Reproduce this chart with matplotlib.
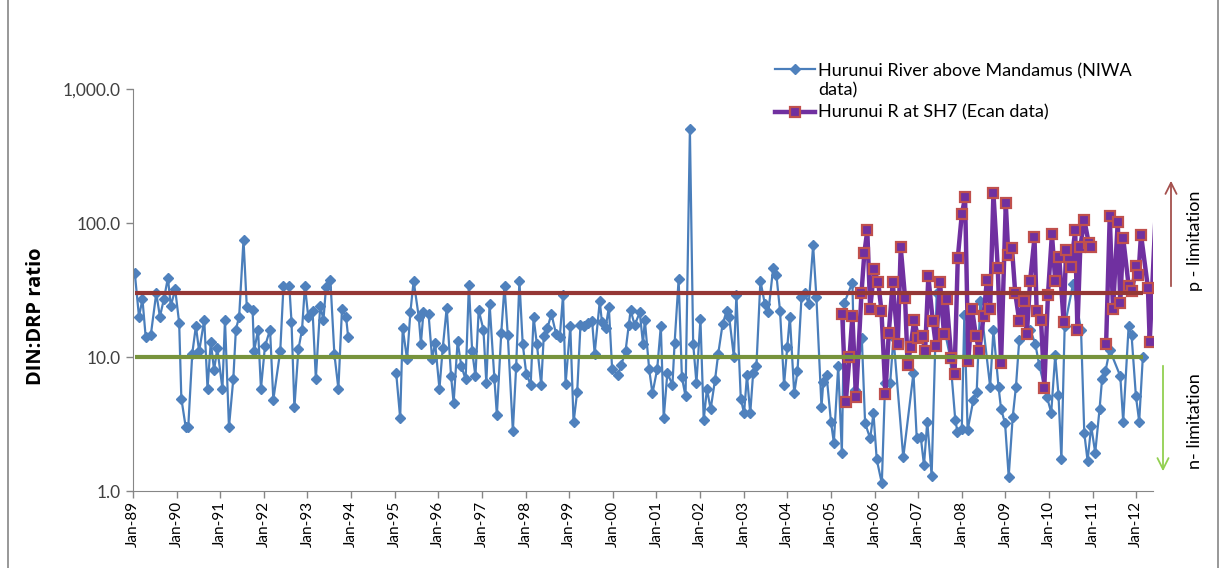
import numpy as np
import pandas as pd
import matplotlib
matplotlib.use("Agg")
import matplotlib.pyplot as plt
import matplotlib.dates as mdates
from matplotlib.lines import Line2D
from matplotlib.patches import FancyArrowPatch
from matplotlib.ticker import FixedLocator, FuncFormatter, NullLocator

plt.rcParams['font.family'] = ['Lato', 'DejaVu Sans']

# ---- data: sample time in months since 1 Jan 1989, DIN:DRP ratio ----
niwa_a_month = [0.5, 1.65, 2.6, 3.5, 4.9, 6.4, 7.4, 8.5, 9.6, 10.4,
                11.6, 12.7, 13.3, 14.5, 15.2, 16.3, 17.3, 18.2, 19.6, 20.5,
                21.4, 22.3, 23.2, 24.6, 25.3, 26.4, 27.6, 28.3, 29.2, 30.4,
                31.3, 32.9, 33.3, 34.4, 35.2, 36.3, 37.7, 38.6, 40.5, 41.4,
                43.0, 43.6, 44.4, 45.5, 46.5, 47.3, 48.2, 49.4, 50.3, 51.5,
                52.4, 53.1, 54.3, 55.4, 56.5, 57.5, 58.6, 59.2]
niwa_a_ratio = [42, 20, 27, 14, 14.6, 30, 20, 27, 39, 24,
                32, 18, 4.9, 3.0, 3.0, 10.6, 17, 11, 19, 5.8,
                13, 8, 11.6, 5.8, 19, 3.0, 6.9, 16, 20, 75,
                23.7, 22.4, 11, 16, 5.8, 12, 16, 4.8, 11, 34,
                34, 18.4, 4.2, 11.4, 16, 34, 20, 22, 6.9, 24,
                19, 33.5, 37.5, 10.5, 5.8, 23, 20, 14]

niwa_b_month = [72.4, 73.5, 74.2, 75.4, 76.3, 77.2, 78.6, 79.2, 79.9, 81.3,
                82.3, 83.1, 84.3, 85.2, 86.3, 87.5, 88.2, 89.3, 90.3, 91.5,
                92.4, 93.3, 94.2, 95.1, 96.4, 97.2, 98.1, 99.4, 100.1, 101.3,
                102.2, 103.1, 104.5, 105.4, 106.3, 107.2, 108.2, 109.4, 110.2, 111.1,
                112.3, 113.0, 114.0, 115.1, 116.4, 117.4, 118.3, 119.0, 120.3, 121.2,
                122.2, 123.1, 124.2, 125.3, 126.3, 127.0, 128.4, 129.0, 130.0, 130.9,
                131.8, 133.4, 134.3, 135.5, 136.4, 136.9, 138.0, 139.4, 140.3, 140.8,
                142.0, 142.9, 144.2, 145.2, 146.0, 147.0, 148.4, 149.0, 150.1, 151.0,
                152.0, 153.2, 154.1, 155.0, 156.1, 157.0, 157.9, 158.9, 160.1, 161.0,
                162.2, 163.3, 164.0, 165.3, 166.0, 167.2, 168.1, 168.9, 169.8, 170.6,
                171.5, 172.6, 173.8, 174.8, 176.1, 177.0, 178.0, 179.1, 180.0, 180.7,
                181.9, 182.8, 183.9, 184.8, 185.9, 187.1, 188.0, 189.4, 189.9, 190.8,
                192.0, 192.8, 194.0, 195.0, 195.7, 197.9, 198.6, 200.5, 201.4, 202.8,
                203.7, 204.6, 206.0, 206.9, 208.3, 209.2, 211.9, 214.7, 215.6, 216.7,
                217.6, 218.5, 219.7, 221.1, 224.8, 226.2, 226.8, 228.0, 228.7, 229.6,
                231.2, 232.1, 233.1, 235.8, 236.7, 238.1, 238.8, 239.9, 240.9, 242.0,
                242.9, 243.8, 246.8, 248.2, 249.3, 251.4, 252.6, 253.7, 254.6, 255.4,
                256.3, 258.6, 260.8, 261.7, 262.6, 263.6, 264.7, 265.9, 266.6, 267.5,
                268.7, 271.6, 272.4, 273.9, 274.7, 275.9, 276.8, 277.8]
niwa_b_ratio = [7.6, 3.5, 16.4, 9.6, 21.5, 37, 20, 12.6, 21.5, 21,
                9.6, 12.8, 5.8, 11.6, 23.3, 7.2, 4.55, 13.1, 8.6, 6.8,
                34.5, 11.1, 7.2, 22.4, 16, 6.4, 25, 7.0, 3.7, 15,
                34, 14.6, 2.8, 8.4, 37, 12.6, 7.45, 6.2, 19.8, 12.5,
                6.2, 14.3, 16.4, 21, 14.8, 14, 29, 6.3, 16.9, 3.25,
                5.5, 17.3, 16.9, 18, 18.5, 10.6, 26, 18.3, 16.4, 23.5,
                8.2, 7.3, 8.7, 11.1, 17.3, 22.4, 17.3, 21.5, 12.6, 18.9,
                8.1, 5.35, 8.1, 17, 3.5, 7.6, 6.2, 12.8, 38, 7.05,
                5.1, 500, 12.6, 6.4, 19.1, 3.4, 5.8, 4.07, 6.7, 10.6,
                17.6, 22, 20, 10, 29, 4.9, 3.8, 7.3, 3.8, 7.6,
                8.6, 37, 25, 21.8, 46, 41, 22, 6.2, 11.9, 20,
                5.35, 7.8, 28, 30, 25, 68, 28, 4.25, 6.5, 7.3,
                3.3, 2.3, 8.55, 1.93, 25.4, 35.9, 5.7, 13.8, 3.2, 2.47,
                3.8, 1.72, 1.14, 6.35, 6.4, 14, 1.78, 7.6, 2.5, 2.54,
                1.56, 3.3, 1.3, 30, 10, 3.4, 2.77, 2.9, 20.6, 2.85,
                4.8, 5.5, 26, 6.0, 15.9, 6.0, 4.1, 3.2, 1.28, 3.55,
                6.0, 13.4, 16, 12.6, 8.7, 5.05, 3.85, 10.3, 5.2, 1.72,
                16.9, 35, 16, 2.7, 1.68, 3.05, 1.93, 4.1, 6.9, 7.8,
                11.3, 7.2, 3.3, 17, 14.6, 5.1, 3.3, 10]

ecan_a_month = [195.1, 196.1, 197.1, 197.9, 198.9, 200.4, 201.2, 202.0, 202.8, 203.9,
                205.0, 205.9, 207.0, 207.9, 209.0, 210.4, 211.2, 212.4, 213.1, 213.9,
                214.9, 216.0, 217.2, 217.9, 218.8, 220.0, 220.9, 222.0, 223.1, 223.8,
                225.1, 226.0, 226.9, 228.0, 228.9, 229.8, 230.8, 231.9, 232.8, 234.0,
                234.9, 235.8, 236.7, 237.9, 238.8, 240.1, 240.8, 241.8, 242.7, 243.8,
                245.0, 245.9, 246.8, 248.0, 248.6, 249.8, 250.7, 251.7, 252.8, 253.7,
                254.8, 256.0, 256.7, 258.0, 259.2, 259.8, 260.6, 261.7, 262.9, 263.6]
ecan_a_ratio = [21, 4.65, 10, 20.3, 5.0, 29.8, 60, 88, 23, 45,
                36.5, 22, 5.3, 15, 36, 12.5, 66, 27.4, 8.7, 11.8,
                18.9, 13.8, 14.3, 11, 40, 18.7, 12, 36.5, 14.8, 27,
                9.9, 7.45, 55, 116, 155, 9.4, 23, 14.3, 11, 20.2,
                37.5, 23, 167, 46, 9.0, 140, 58, 65, 30, 18.7,
                26, 14.8, 37, 78, 22, 18.9, 5.9, 29, 83, 37,
                56, 18.4, 63, 47, 88, 16, 66, 106, 71, 66]
ecan_b_month = [267.7, 268.7, 269.6, 270.9, 271.6, 272.4, 273.9, 274.8, 276.0, 276.6,
                277.3, 279.2, 279.7, 281.5]
ecan_b_ratio = [12.5, 112, 22.7, 102, 25.5, 77, 34, 31, 48, 41,
                82, 33, 13, 150]

p_limit_ratio = 30
n_limit_ratio = 10
y_ticks = [1, 10, 100, 1000]
axis_end_month = 280.6

series_labels = ["Hurunui River above Mandamus (NIWA\ndata)",
                 "Hurunui R at SH7 (Ecan data)"]

BASE = pd.Timestamp("1989-01-01")


def to_dates(months):
    return BASE + pd.to_timedelta(np.asarray(months) * 30.4375, unit="D")


BLUE = "#4A7EBB"
BLUE_M = "#4F81BD"
PURPLE = "#7030A0"
SQ_EDGE = "#C0504D"
RED = "#953735"
GREEN = "#77933C"
GRAY = "#868686"

W, H = 1222, 568
fig = plt.figure(figsize=(W / 100, H / 100), dpi=100)
ax = fig.add_axes([133 / W, 1 - 491 / H, (1153 - 133) / W, (491 - 89) / H])


def fx(px):
    return px / W


def fy(py):
    return 1 - py / H


for m, r in [(niwa_a_month, niwa_a_ratio), (niwa_b_month, niwa_b_ratio)]:
    ax.plot(to_dates(m), r, color=BLUE, lw=1.6, marker='D', ms=5.5,
            mfc=BLUE_M, mec=BLUE_M, zorder=2)

axis_end = to_dates([axis_end_month])[0]
for m, r in [(ecan_a_month, ecan_a_ratio), (ecan_b_month, ecan_b_ratio)]:
    d = to_dates(m)
    inside = [i for i, t in enumerate(d) if t <= axis_end]
    ax.plot(d, r, color=PURPLE, lw=3.2, marker='s', ms=6.5, markevery=inside,
            mfc=PURPLE, mec=SQ_EDGE, mew=1.6, zorder=3)

t0 = to_dates([niwa_a_month[0]])[0]
t1 = to_dates([niwa_b_month[-1]])[0]
ax.plot([t0, t1], [p_limit_ratio, p_limit_ratio], color=RED, lw=3.0, zorder=4,
        solid_capstyle='butt')
ax.plot([t0, t1], [n_limit_ratio, n_limit_ratio], color=GREEN, lw=3.0, zorder=4,
        solid_capstyle='butt')

ax.set_yscale('log')
ax.set_ylim(1, 1000)
ax.yaxis.set_major_locator(FixedLocator(y_ticks))
ax.yaxis.set_minor_locator(NullLocator())
ax.yaxis.set_major_formatter(FuncFormatter(lambda v, p: f"{v:,.1f}"))
ax.set_xlim(BASE, axis_end)
ax.xaxis.set_major_locator(mdates.YearLocator())
ax.xaxis.set_major_formatter(mdates.DateFormatter('%b-%y'))
for lab in ax.get_xticklabels():
    lab.set_rotation(90)

for s in ['top', 'right']:
    ax.spines[s].set_visible(False)
for s in ['left', 'bottom']:
    ax.spines[s].set_color(GRAY)
ax.tick_params(axis='both', colors=GRAY, length=5, width=1, direction='out')
ax.tick_params(axis='x', labelcolor='black', labelsize=11, pad=2)
ax.tick_params(axis='y', labelcolor='#404040', labelsize=12.5, pad=4)

# y-axis title
fig.text(fx(36), fy(316), "DIN:DRP ratio", rotation=90, fontsize=14.5,
         fontweight='bold', family=['Open Sans', 'DejaVu Sans'],
         ha='center', va='center')

# chart frame
for xp in (8, 1218):
    fig.add_artist(Line2D([fx(xp), fx(xp)], [0, 1], color=GRAY, lw=1.2,
                          transform=fig.transFigure))

# legend (drawn by hand to match layout)
fig.add_artist(Line2D([fx(775), fx(815)], [fy(69), fy(69)], color=BLUE, lw=1.6,
                      transform=fig.transFigure))
fig.add_artist(Line2D([fx(795)], [fy(69)], marker='D', ms=5.5, color=BLUE_M,
                      transform=fig.transFigure))
fig.text(fx(818), fy(81), series_labels[0], fontsize=13, va='center',
         ha='left', linespacing=1.25)
fig.add_artist(Line2D([fx(775), fx(815)], [fy(112), fy(112)], color=PURPLE, lw=3.2,
                      transform=fig.transFigure))
fig.add_artist(Line2D([fx(795)], [fy(112)], marker='s', ms=6.5, mfc=PURPLE,
                      mec=SQ_EDGE, mew=1.6, transform=fig.transFigure))
fig.text(fx(818), fy(112), series_labels[1], fontsize=13, va='center', ha='left')

# limitation annotations
fig.add_artist(FancyArrowPatch((fx(1171), fy(289)), (fx(1171), fy(178)),
                               transform=fig.transFigure, arrowstyle='->',
                               mutation_scale=20, color="#A5504D", lw=1.3))
fig.add_artist(FancyArrowPatch((fx(1163), fy(363)), (fx(1163), fy(474)),
                               transform=fig.transFigure, arrowstyle='->',
                               mutation_scale=20, color="#92D050", lw=1.3))
fig.text(fx(1195), fy(241), "p - limitation", rotation=90, fontsize=13,
         ha='center', va='center')
fig.text(fx(1195), fy(421), "n- limitation", rotation=90, fontsize=13,
         ha='center', va='center')

fig.savefig("out.png", dpi=100)
